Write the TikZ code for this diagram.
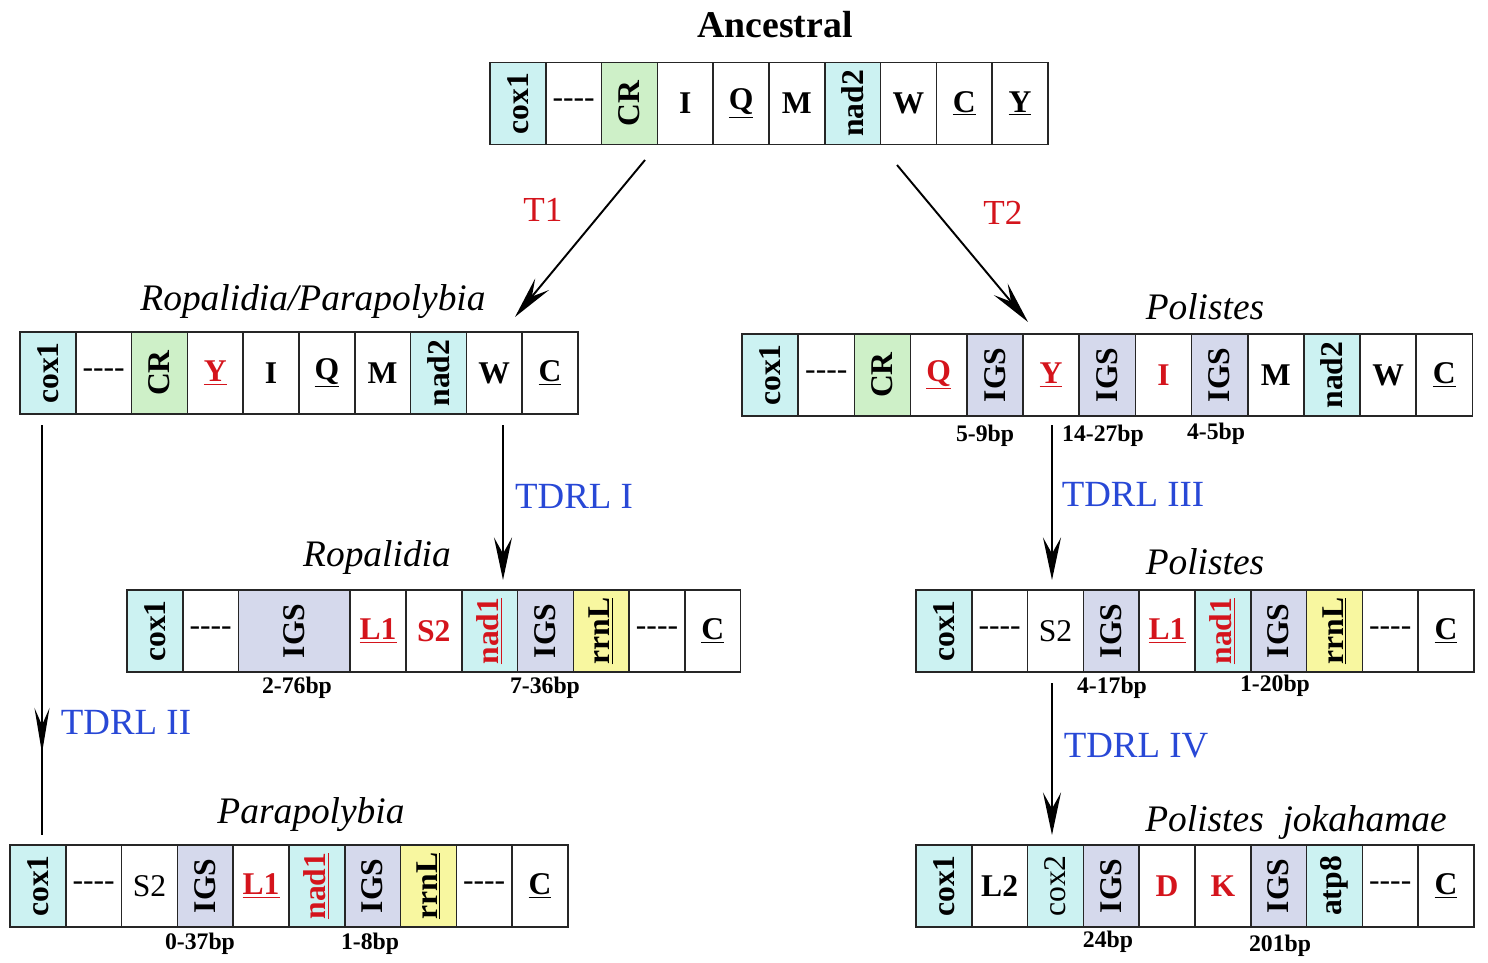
\documentclass[tikz,border=0pt]{standalone}
\usepackage{fontspec}
\setmainfont{Liberation Serif}
\usepackage{xcolor}
\usepackage{tikz}
\usetikzlibrary{positioning}
\usetikzlibrary{arrows.meta,decorations.markings}
\definecolor{pcgcyan}{RGB}{204,242,242}
\definecolor{crgreen}{RGB}{206,240,200}
\definecolor{igsblue}{RGB}{213,217,236}
\definecolor{rrnyellow}{RGB}{248,247,160}
\definecolor{genered}{RGB}{212,20,28}
\definecolor{tdrlblue}{RGB}{40,72,214}
\tikzset{gene/.style={draw=black!85, line width=0.9pt, outer sep=0pt, minimum width=1.116cm, minimum height=1.64cm, inner sep=0pt, font=\bfseries\fontsize{18}{18}\selectfont}}
\tikzset{pcg/.style={gene, fill=pcgcyan}, cr/.style={gene, fill=crgreen}, igs/.style={gene, fill=igsblue}, rrn/.style={gene, fill=rrnyellow}}
\tikzset{taxon/.style={font=\itshape\fontsize{21.3}{21.3}\selectfont}, bp/.style={font=\bfseries\fontsize{13.5}{13.5}\selectfont}}
\tikzset{conn/.style={line width=1.1pt, -{Stealth[length=0.85cm, width=0.36cm, inset=0.32cm]}}}
\newcommand{\vt}[1]{\rotatebox{90}{#1}}
\newcommand{\gu}[1]{\underline{#1}}
\newcommand{\rd}[1]{\textcolor{genered}{#1}}
\newcommand{\gapdash}{\raisebox{-0.2ex}{\mdseries{-}{-}{-}{-}}}

\begin{document}
\begin{tikzpicture}[x=0.02cm, y=-0.02cm, node distance=0pt]
		\useasboundingbox (0,0) rectangle (1488,963);
		
		% ancestral order
		\node[font=\bfseries\fontsize{21.5}{21.5}\selectfont] (tanc) at (775,25) {Ancestral};
		\node[pcg] (a1) at (517.9,103.5) {\vt{cox1}};
		\node[gene] (a2) [right=of a1] {\gapdash};
		\node[cr] (a3) [right=of a2] {\vt{CR}};
		\node[gene] (a4) [right=of a3] {I};
		\node[gene] (a5) [right=of a4] {\gu{Q}};
		\node[gene] (a6) [right=of a5] {M};
		\node[pcg] (a7) [right=of a6] {\vt{nad2}};
		\node[gene] (a8) [right=of a7] {W};
		\node[gene] (a9) [right=of a8] {\gu{C}};
		\node[gene] (a10) [right=of a9] {\gu{Y}};
		
		% Ropalidia/Parapolybia
		\node[taxon] (trp) at (313,302) {Ropalidia/Parapolybia};
		\node[pcg] (r1) at (47.9,373) {\vt{cox1}};
		\node[gene] (r2) [right=of r1] {\gapdash};
		\node[cr] (r3) [right=of r2] {\vt{CR}};
		\node[gene] (r4) [right=of r3] {\rd{\gu{Y}}};
		\node[gene] (r5) [right=of r4] {I};
		\node[gene] (r6) [right=of r5] {\gu{Q}};
		\node[gene] (r7) [right=of r6] {M};
		\node[pcg] (r8) [right=of r7] {\vt{nad2}};
		\node[gene] (r9) [right=of r8] {W};
		\node[gene] (r10) [right=of r9] {\gu{C}};
		
		% Polistes
		\begin{scope}[gene/.append style={minimum width=1.124cm}]
			\node[taxon] (tpa) at (1205,307) {Polistes};
			\node[pcg] (p1) at (770.1,375) {\vt{cox1}};
			\node[gene] (p2) [right=of p1] {\gapdash};
			\node[cr] (p3) [right=of p2] {\vt{CR}};
			\node[gene] (p4) [right=of p3] {\rd{\gu{Q}}};
			\node[igs] (p5) [right=of p4] {\vt{IGS}};
			\node[gene] (p6) [right=of p5] {\rd{\gu{Y}}};
			\node[igs] (p7) [right=of p6] {\vt{IGS}};
			\node[gene] (p8) [right=of p7] {\rd{I}};
			\node[igs] (p9) [right=of p8] {\vt{IGS}};
			\node[gene] (p10) [right=of p9] {M};
			\node[pcg] (p11) [right=of p10] {\vt{nad2}};
			\node[gene] (p12) [right=of p11] {W};
			\node[gene] (p13) [right=of p12] {\gu{C}};
		\end{scope}
		\node[bp] (bp1) at (985,436) {5-9bp};
		\node[bp] (bp2) at (1103,436) {14-27bp};
		\node[bp] (bp3) at (1216,434) {4-5bp};
		
		% Ropalidia
		\node[taxon] (tro) at (377,557) {Ropalidia};
		\node[pcg] (o1) at (154.9,631) {\vt{cox1}};
		\node[gene] (o2) [right=of o1] {\gapdash};
		\node[igs, minimum width=2.232cm] (o3) [right=of o2] {\vt{IGS}};
		\node[gene] (o4) [right=of o3] {\rd{\gu{L1}}};
		\node[gene] (o5) [right=of o4] {\rd{S2}};
		\node[pcg] (o6) [right=of o5] {\vt{\rd{\gu{nad1}}}};
		\node[igs] (o7) [right=of o6] {\vt{IGS}};
		\node[rrn] (o8) [right=of o7] {\vt{\gu{rrnL}}};
		\node[gene] (o9) [right=of o8] {\gapdash};
		\node[gene] (o10) [right=of o9] {\gu{C}};
		\node[bp] (bp4) at (297,688) {2-76bp};
		\node[bp] (bp5) at (545,688) {7-36bp};
		
		% Polistes after TDRL III
		\node[taxon] (tpb) at (1205,562) {Polistes};
		\node[pcg] (q1) at (943.9,631) {\vt{cox1}};
		\node[gene] (q2) [right=of q1] {\gapdash};
		\node[gene] (q3) [right=of q2] {\mdseries S2};
		\node[igs] (q4) [right=of q3] {\vt{IGS}};
		\node[gene] (q5) [right=of q4] {\rd{\gu{L1}}};
		\node[pcg] (q6) [right=of q5] {\vt{\rd{\gu{nad1}}}};
		\node[igs] (q7) [right=of q6] {\vt{IGS}};
		\node[rrn] (q8) [right=of q7] {\vt{\gu{rrnL}}};
		\node[gene] (q9) [right=of q8] {\gapdash};
		\node[gene] (q10) [right=of q9] {\gu{C}};
		\node[bp] (bp6) at (1112,688) {4-17bp};
		\node[bp] (bp7) at (1275,686) {1-20bp};
		
		% Parapolybia
		\node[taxon] (tpp) at (311,815) {Parapolybia};
		\node[pcg] (s1) at (37.9,886) {\vt{cox1}};
		\node[gene] (s2) [right=of s1] {\gapdash};
		\node[gene] (s3) [right=of s2] {\mdseries S2};
		\node[igs] (s4) [right=of s3] {\vt{IGS}};
		\node[gene] (s5) [right=of s4] {\rd{\gu{L1}}};
		\node[pcg] (s6) [right=of s5] {\vt{\rd{\gu{nad1}}}};
		\node[igs] (s7) [right=of s6] {\vt{IGS}};
		\node[rrn] (s8) [right=of s7] {\vt{\gu{rrnL}}};
		\node[gene] (s9) [right=of s8] {\gapdash};
		\node[gene] (s10) [right=of s9] {\gu{C}};
		\node[bp] (bp8) at (200,944) {0-37bp};
		\node[bp] (bp9) at (370,944) {1-8bp};
		
		% Polistes jokahamae
		\node[taxon] (tpj) at (1296,822) {Polistes\ \ jokahamae};
		\node[pcg] (j1) at (943.9,886) {\vt{cox1}};
		\node[gene] (j2) [right=of j1] {L2};
		\node[pcg] (j3) [right=of j2] {\vt{\mdseries cox2}};
		\node[igs] (j4) [right=of j3] {\vt{IGS}};
		\node[gene] (j5) [right=of j4] {\rd{D}};
		\node[gene] (j6) [right=of j5] {\rd{K}};
		\node[igs] (j7) [right=of j6] {\vt{IGS}};
		\node[pcg] (j8) [right=of j7] {\vt{atp8}};
		\node[gene] (j9) [right=of j8] {\gapdash};
		\node[gene] (j10) [right=of j9] {\gu{C}};
		\node[bp] (bp10) at (1108,942) {24bp};
		\node[bp] (bp11) at (1280,946) {201bp};
		
		% transitions
		\coordinate (t1s) at (645,160);
		\coordinate (t1e) at (515,317);
		\coordinate (t2s) at (897,165);
		\coordinate (t2e) at (1028,322);
		\coordinate (d1s) at (503,425);
		\coordinate (d1e) at (503,580);
		\coordinate (d2s) at (42,425);
		\coordinate (d2e) at (42,835);
		\coordinate (d3s) at (1052,425);
		\coordinate (d3e) at (1052,580);
		\coordinate (d4s) at (1052,683);
		\coordinate (d4e) at (1052,835);
		
		\begin{scope}[font=\fontsize{20}{20}\selectfont]
			\draw[conn] (t1s) -- (t1e);
			\draw[conn] (t2s) -- (t2e);
			\node[text=genered] (lt1) at (543,210) {T1};
			\node[text=genered] (lt2) at (1003,213) {T2};
		\end{scope}
		
		\begin{scope}[font=\fontsize{21}{21}\selectfont, every node/.style={text=tdrlblue}]
			\draw[conn] (d1s) -- (d1e);
			\draw[line width=1.1pt, postaction={decorate}, decoration={markings, mark=at position 0.8 with {\arrow{Stealth[length=0.9cm, width=0.3cm, inset=0.34cm]}}}] (d2s) -- (d2e);
			\draw[conn] (d3s) -- (d3e);
			\draw[conn] (d4s) -- (d4e);
			\node (l1) at (574,496) {TDRL I};
			\node (l2) at (126,722) {TDRL II};
			\node (l3) at (1133,494) {TDRL III};
			\node (l4) at (1136,746) {TDRL IV};
		\end{scope}
	\end{tikzpicture}
\end{document}
